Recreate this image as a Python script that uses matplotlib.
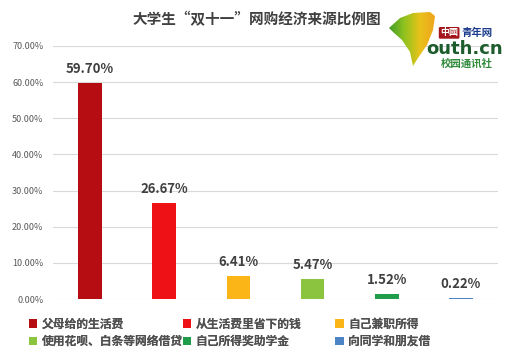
import matplotlib
matplotlib.use('Agg')
import matplotlib.pyplot as plt
from matplotlib.patches import Patch, Polygon
from matplotlib.colors import LinearSegmentedColormap
import numpy as np

plt.rcParams['font.family'] = ['Noto Sans CJK SC', 'DejaVu Sans']

# data
categories = ['父母给的生活费', '从生活费里省下的钱', '自己兼职所得',
              '使用花呗、白条等网络借贷', '自己所得奖助学金', '向同学和朋友借']
values = [59.70, 26.67, 6.41, 5.47, 1.52, 0.22]
colors = ['#b50d12', '#ee1115', '#fbb516', '#8bc53f', '#1f9d4b', '#4c84c6']
yticks = [0, 10, 20, 30, 40, 50, 60, 70]

fig = plt.figure(figsize=(5.29, 3.61), dpi=100)
ax = fig.add_axes([0.1002, 0.1717, 0.8412, 0.7009])

x = np.arange(len(values))
ax.bar(x, values, width=0.32, color=colors, zorder=3)

for xi, v in zip(x, values):
    ax.text(xi, v + 1.9, '{:.2f}%'.format(v), ha='center', va='bottom',
            fontsize=9.5, fontweight='bold', color='#404040')

ax.set_xlim(-0.5, len(values) - 0.5)
ax.set_ylim(0, 70)
ax.set_yticks(yticks)
ax.set_yticklabels(['{:.2f}%'.format(t) for t in yticks], fontsize=6.5, color='#595959')
ax.set_xticks([])
ax.tick_params(axis='y', length=0, pad=7)
ax.grid(axis='y', color='#d9d9d9', linewidth=0.8, zorder=0)
for s in ax.spines.values():
    s.set_visible(False)

fig.text(0.485, 0.946, '大学生“双十一”网购经济来源比例图', ha='center', va='center',
         fontsize=10.5, fontweight='bold', color='#404040')

# legend, three columns of two rows
handles = [Patch(facecolor=c, edgecolor='none') for c in colors]
col_x = [0.055, 0.345, 0.634]
for c in range(3):
    leg = fig.legend([handles[c], handles[c + 3]], [categories[c], categories[c + 3]],
                     loc='upper left', bbox_to_anchor=(col_x[c], 0.12), frameon=False,
                     handlelength=0.7, handleheight=0.7, handletextpad=0.4,
                     labelspacing=0.35, borderpad=0, borderaxespad=0,
                     prop={'size': 8.5, 'weight': 'bold'})
    for t in leg.get_texts():
        t.set_color('#505050')
    fig.add_artist(leg)

# logo: ginkgo leaf with green-to-yellow gradient
lax = fig.add_axes([0, 0, 1, 1], zorder=5)
lax.set_xlim(0, 529)
lax.set_ylim(361, 0)
lax.axis('off')
leaf_pts = [[389, 28], [400, 18], [413, 13], [430, 12], [435, 16], [433, 30],
            [427, 45], [418, 58], [413, 66], [410, 52], [402, 40], [393, 32]]
leaf = Polygon(leaf_pts, closed=True, facecolor='none', edgecolor='none')
lax.add_patch(leaf)
cmap = LinearSegmentedColormap.from_list('leaf', ['#3f9a2a', '#8fc21e', '#e8c21a', '#f0a31c'])
grad = np.tile(np.linspace(0, 1, 64), (64, 1))
im = lax.imshow(grad, cmap=cmap, extent=[388, 436, 67, 11], aspect='auto')
im.set_clip_path(leaf)
lax.set_xlim(0, 529)
lax.set_ylim(361, 0)

fig.text(0.832, 0.909, '中國', fontsize=6.5, fontweight='bold', color='white',
         ha='left', va='center',
         bbox=dict(boxstyle='round,pad=0.15', facecolor='#a5161c', edgecolor='none'))
fig.text(0.873, 0.909, '青年网', fontsize=7.5, fontweight='bold', color='#1a3a8c',
         ha='left', va='center', family='Noto Sans CJK SC')
fig.text(0.806, 0.865, 'outh.cn', fontsize=13, fontweight='bold', color='#1d5c2c',
         ha='left', va='center', family='DejaVu Sans')
fig.text(0.833, 0.825, '校园通讯社', fontsize=7.5, fontweight='bold', color='#2f8a3a',
         ha='left', va='center')

fig.savefig('out.png', dpi=100)
